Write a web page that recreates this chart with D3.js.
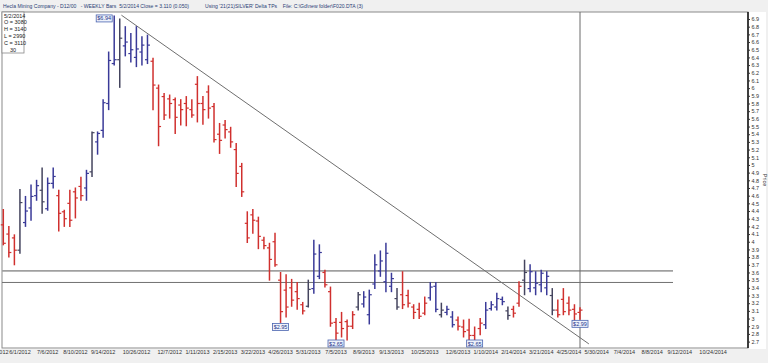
<!DOCTYPE html>
<html>
<head>
<meta charset="utf-8">
<script src="https://cdn.jsdelivr.net/npm/d3@7"></script>
<style>
  body { margin: 0; background: #fff; }
  svg { display: block; font-family: "Liberation Sans", Arial, sans-serif; }
</style>
</head>
<body>
<div id="chart-area"></div>
<script>
// weekly bars, first bar week of 5/4/2012
const firstWeek = "2012-05-04";
const opens = [4.22,4.10,4.05,3.89,4.25,4.44,4.60,4.67,4.43,4.76,
               4.60,4.39,4.50,4.65,4.72,4.70,4.91,5.30,5.45,5.80,
               6.32,6.37,6.55,6.45,6.40,6.47,6.37,6.35,6.00,5.89,
               5.86,5.85,5.78,5.80,5.72,6.05,5.80,5.95,5.76,5.40,
               5.52,5.43,5.20,4.98,4.24,4.35,4.27,4.02,3.92,4.00,
               3.50,3.37,3.40,3.35,3.18,3.16,3.39,3.55,3.60,3.35,
               2.95,2.95,2.96,2.90,3.15,3.19,3.05,3.45,3.62,3.48,
               3.42,3.26,3.31,3.30,3.15,3.12,3.07,3.27,3.42,3.05,
               3.08,3.02,2.98,2.89,2.85,2.78,2.87,2.92,3.13,3.15,
               3.25,3.10,3.12,3.20,3.50,3.39,3.40,3.44,3.40,3.30,
               3.11,3.25,3.20,3.12,3.08];
const highs = [4.42,4.20,4.09,4.68,4.59,4.74,4.80,4.96,4.83,4.96,
               4.67,4.41,4.67,4.70,4.84,4.93,5.43,5.43,5.85,6.47,
               6.94,6.90,6.80,6.71,6.80,6.67,6.69,6.39,6.04,5.93,
               5.91,5.87,5.85,5.89,5.85,6.15,5.89,6.03,5.80,5.54,
               5.58,5.49,5.28,5.02,4.39,4.42,4.32,4.06,3.98,4.11,
               3.60,3.57,3.51,3.47,3.21,3.50,4.02,3.96,3.63,3.41,
               3.00,3.08,2.98,3.09,3.34,3.35,3.37,3.83,3.88,3.98,
               3.59,3.39,3.61,3.37,3.18,3.20,3.28,3.47,3.47,3.20,
               3.16,3.09,3.02,2.98,2.99,2.89,3.00,3.21,3.22,3.33,
               3.28,3.15,3.16,3.48,3.76,3.70,3.61,3.63,3.61,3.39,
               3.24,3.39,3.28,3.18,3.14];
const lows  = [3.96,3.80,3.70,3.85,4.20,4.28,4.54,4.37,4.41,4.70,
               4.14,4.20,4.20,4.31,4.54,4.54,4.85,5.14,5.36,5.72,
               6.30,6.01,6.42,6.34,6.28,6.30,6.32,5.72,5.25,5.59,
               5.61,5.41,5.52,5.51,5.62,5.56,5.53,5.61,5.30,5.15,
               5.35,5.23,4.72,4.59,3.99,4.11,3.91,3.91,3.50,3.68,
               2.95,3.02,3.16,3.12,3.06,3.15,3.33,3.52,3.41,2.90,
               2.65,2.76,2.72,2.87,3.11,3.15,2.93,3.39,3.55,3.35,
               3.35,3.12,3.13,3.15,3.00,3.00,3.05,3.24,3.09,3.02,
               3.05,2.89,2.85,2.76,2.68,2.65,2.79,2.87,3.11,3.11,
               3.18,2.99,3.02,3.16,3.31,3.35,3.31,3.35,3.31,3.05,
               3.02,3.05,3.05,2.92,2.99];
const closes = [3.98,3.86,3.89,4.51,4.40,4.59,4.73,4.52,4.76,4.85,
               4.37,4.30,4.28,4.57,4.60,4.89,5.42,5.41,5.81,6.36,
               6.37,6.65,6.60,6.50,6.51,6.56,6.56,6.04,5.50,5.65,
               5.80,5.62,5.72,5.74,5.65,5.80,5.72,5.74,5.33,5.32,
               5.46,5.30,4.89,4.65,4.05,4.28,4.07,3.95,3.77,3.70,
               3.09,3.15,3.24,3.26,3.10,3.38,3.84,3.86,3.44,2.94,
               2.81,2.87,2.90,3.05,3.31,3.28,3.31,3.70,3.75,3.85,
               3.52,3.15,3.18,3.20,3.08,3.03,3.20,3.41,3.12,3.11,
               3.12,2.92,2.90,2.83,2.78,2.70,2.94,3.11,3.18,3.26,
               3.22,3.04,3.07,3.42,3.60,3.61,3.46,3.59,3.55,3.11,
               3.05,3.09,3.11,3.06,3.11];
// r = red, b = blue, k = dark slate
const barColors = ("rrrkbbbkbbrrrrrbkbbbbkbbbbbrrrrrrrrrrrrrrrrrrrrrrrrrrrrkbbrrrrrrkbbbbbb" +
                   "krrrrrbbkbbrrrrrbbbbkrrkbbbbkrrrrrr").split("");

const tickDates = ["5/4/2012","6/1/2012","7/6/2012","8/10/2012","9/14/2012","10/26/2012",
                   "12/7/2012","1/11/2013","2/15/2013","3/22/2013","4/26/2013","5/31/2013",
                   "7/5/2013","8/9/2013","9/13/2013","10/25/2013","12/6/2013","1/10/2014",
                   "2/14/2014","3/21/2014","4/25/2014","5/30/2014","7/4/2014","8/8/2014",
                   "9/12/2014","10/24/2014"];
const priceTicks = [2.7,2.8,2.9,3,3.1,3.2,3.3,3.4,3.5,3.6,3.7,3.8,3.9,4,4.1,4.2,4.3,4.4,
                    4.5,4.6,4.7,4.8,4.9,5,5.1,5.2,5.3,5.4,5.5,5.6,5.7,5.8,5.9,6,6.1,6.2,
                    6.3,6.4,6.5,6.6,6.7,6.8,6.9];

// pivot price boxes
const pivotBars = [20, 50, 60, 85, 104];
const pivotKind = ["H", "L", "L", "L", "L"];

// support lines and down trendline (bar index, price)
const levels = [3.62, 3.47];
const trendLine = [[21.3, 6.95], [105.6, 2.67]];

const infoLines = ["5/2/2014", "O = 3080", "H = 3140", "L = 2990", "C = 3110", "30"];

const colorOf = { r: "#d0302e", b: "#3a3a98", k: "#44445e" };

const svgWidth = 768, svgHeight = 363;
const plot = { left: 2, right: 748, top: 12, bottom: 348 };

const parseIso = d3.timeParse("%Y-%m-%d");
const parseUs = d3.timeParse("%m/%d/%Y");
const fmtUs = d3.timeFormat("%-m/%-d/%Y");
const d0 = parseIso(firstWeek);

const bars = opens.map((o, i) => ({
  i: i,
  date: d3.timeWeek.offset(d0, i),
  o: o, h: highs[i], l: lows[i], c: closes[i],
  col: colorOf[barColors[i]]
}));

const svg = d3.select("#chart-area")
              .append("svg")
              .attr("width", svgWidth)
              .attr("height", svgHeight);

// backgrounds
svg.append("rect").attr("width", svgWidth).attr("height", svgHeight).attr("fill", "#f0f0f0");
svg.append("rect").attr("x", 0).attr("y", plot.top)
   .attr("width", 766).attr("height", plot.bottom - plot.top + 1).attr("fill", "#fff");

const x = d3.scaleTime()
            .domain([d0, bars[bars.length - 1].date])
            .range([3.3, 580]);
const xi = d3.scaleLinear()
             .domain([0, bars.length - 1])
             .range([3.3, 580]);
const y = d3.scaleLinear()
            .domain([2.7, 6.9])
            .range([341.6, 19]);

const g = svg.append("g");

// plot frame
g.append("rect")
 .attr("x", plot.left).attr("y", plot.top)
 .attr("width", plot.right - plot.left).attr("height", plot.bottom - plot.top)
 .attr("fill", "none").attr("stroke", "#8a8a8a").attr("stroke-width", 1);
g.append("line")
 .attr("x1", plot.right).attr("x2", plot.right)
 .attr("y1", plot.top).attr("y2", plot.bottom)
 .attr("stroke", "#111").attr("stroke-width", 1.5);

// horizontal levels
g.selectAll(".level")
 .data(levels)
 .enter()
 .append("line")
   .attr("class", "level")
   .attr("x1", plot.left).attr("x2", 673)
   .attr("y1", d => y(d)).attr("y2", d => y(d))
   .attr("stroke", (d, i) => i === 0 ? "#a0a0a0" : "#707070")
   .attr("stroke-width", (d, i) => i === 0 ? 1.8 : 1);

// cursor line at last bar
g.append("line")
 .attr("x1", x(bars[bars.length - 1].date)).attr("x2", x(bars[bars.length - 1].date))
 .attr("y1", plot.top).attr("y2", plot.bottom)
 .attr("stroke", "#6a6a6a").attr("stroke-width", 1);

// trendline
g.append("line")
 .attr("x1", xi(trendLine[0][0])).attr("y1", y(trendLine[0][1]))
 .attr("x2", xi(trendLine[1][0])).attr("y2", y(trendLine[1][1]))
 .attr("stroke", "#6e6e6e").attr("stroke-width", 1);

// OHLC bars
const barG = g.selectAll(".bar")
              .data(bars)
              .enter()
              .append("g")
                .attr("class", "bar")
                .attr("stroke", d => d.col)
                .attr("stroke-width", 1.5);
barG.append("line")
    .attr("x1", d => x(d.date)).attr("x2", d => x(d.date))
    .attr("y1", d => y(d.h) - 0.5).attr("y2", d => y(d.l) + 0.5);
barG.append("line")
    .attr("x1", d => x(d.date) - 2.5).attr("x2", d => x(d.date))
    .attr("y1", d => y(d.o)).attr("y2", d => y(d.o))
    .attr("stroke-width", 1.2);
barG.append("line")
    .attr("x1", d => x(d.date)).attr("x2", d => x(d.date) + 2.5)
    .attr("y1", d => y(d.c)).attr("y2", d => y(d.c))
    .attr("stroke-width", 1.2);

// pivot boxes
const pivots = pivotBars.map((b, k) => ({
  bar: bars[b], kind: pivotKind[k],
  v: pivotKind[k] === "H" ? highs[b] : lows[b]
}));
const boxW = 16, boxH = 7;
const pg = g.selectAll(".pivot")
            .data(pivots)
            .enter()
            .append("g")
              .attr("class", "pivot")
              .attr("transform", d => {
                const px = x(d.bar.date), py = y(d.v);
                if (d.kind === "H") return `translate(${px - boxW - 2},${py - 1})`;
                return `translate(${px - boxW / 2},${Math.min(py + 1, plot.bottom - boxH - 1)})`;
              });
pg.append("rect")
  .attr("width", boxW).attr("height", boxH)
  .attr("fill", "#eef2fb").attr("stroke", "#4a64b0").attr("stroke-width", 0.8);
pg.append("text")
  .attr("x", boxW / 2).attr("y", boxH - 1.5)
  .attr("text-anchor", "middle")
  .attr("font-size", "5.5px")
  .attr("fill", "#23348a")
  .text(d => "$" + d.v.toFixed(2));

// x axis
const xAxisCall = d3.axisBottom(x)
                    .tickValues(tickDates.map(parseUs))
                    .tickSize(0)
                    .tickFormat(fmtUs);
svg.append("g")
   .attr("class", "x axis")
   .attr("transform", `translate(0, ${plot.bottom})`)
   .call(xAxisCall)
   .call(a => a.select(".domain").remove())
   .selectAll("text")
     .attr("font-size", "5.5px")
     .attr("font-family", "Liberation Sans, Arial, sans-serif")
     .attr("fill", "#333")
     .attr("dy", "0.6em")
     .attr("dx", "-6");

// y axis
const yAxisCall = d3.axisRight(y)
                    .tickValues(priceTicks)
                    .tickSize(2)
                    .tickPadding(1.5)
                    .tickFormat(d => d);
svg.append("g")
   .attr("class", "y axis")
   .attr("transform", `translate(${plot.right}, 0)`)
   .call(yAxisCall)
   .call(a => a.select(".domain").remove())
   .call(a => a.selectAll("line").attr("stroke", "#333"))
   .selectAll("text")
     .attr("font-size", "5.5px")
     .attr("font-family", "Liberation Sans, Arial, sans-serif")
     .attr("fill", "#333");

svg.append("text")
   .attr("x", 763).attr("y", 180)
   .attr("transform", "rotate(90, 763, 180)")
   .attr("text-anchor", "middle")
   .attr("font-size", "5.5px")
   .attr("fill", "#333")
   .text("Price");

// header
svg.append("text")
   .attr("x", 3).attr("y", 8)
   .attr("font-size", "5.5px")
   .attr("fill", "#2b3d75")
   .attr("xml:space", "preserve")
   .attr("textLength", 186)
   .attr("lengthAdjust", "spacingAndGlyphs")
   .text("Hecla Mining Company - D12/00   - WEEKLY Bars  5/2/2014 Close = 3.110 (0.050)");
svg.append("text")
   .attr("x", 205).attr("y", 8)
   .attr("font-size", "5.5px")
   .attr("fill", "#2b3d75")
   .attr("xml:space", "preserve")
   .attr("textLength", 158)
   .attr("lengthAdjust", "spacingAndGlyphs")
   .text("Using '21(21)SILVER' Delta TPs    File: C:\\Gd\\new folder\\F020.DTA (3)");

// info box
svg.append("rect")
   .attr("x", 2).attr("y", 12).attr("width", 22).attr("height", 41)
   .attr("fill", "#fff").attr("stroke", "#888").attr("stroke-width", 0.8);
svg.selectAll(".info")
   .data(infoLines)
   .enter()
   .append("text")
     .attr("class", "info")
     .attr("x", (d, i) => i === infoLines.length - 1 ? 10 : 4)
     .attr("y", (d, i) => 17.5 + i * 6.8)
     .attr("font-size", "5.5px")
     .attr("fill", "#222")
     .text(d => d);
</script>
</body>
</html>
